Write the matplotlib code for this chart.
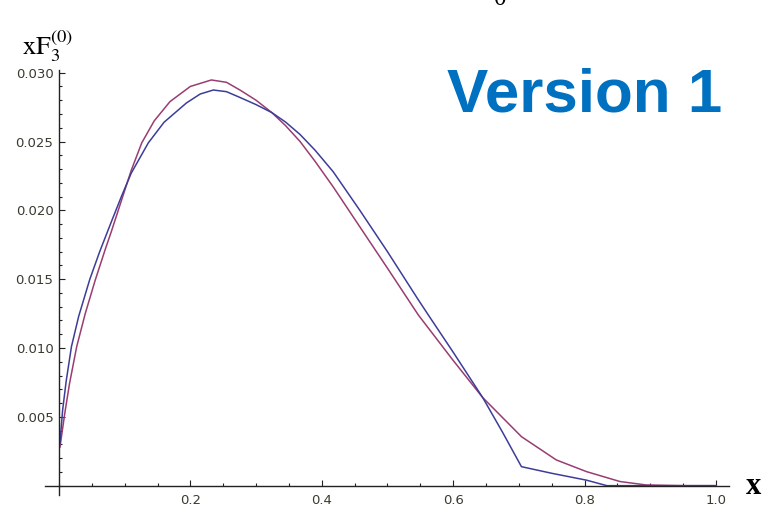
import numpy as np
import matplotlib
matplotlib.use("Agg")
import matplotlib.pyplot as plt
from matplotlib.ticker import MultipleLocator, FixedLocator

# blue curve (has a kink near x=0.7)
x_blue = [0.0015, 0.0056, 0.011, 0.019, 0.030, 0.047, 0.062, 0.08, 0.095, 0.11,
          0.136, 0.16, 0.194, 0.215, 0.235, 0.255, 0.2755, 0.30, 0.324, 0.345,
          0.367, 0.39, 0.4175, 0.458, 0.50, 0.547, 0.565, 0.60, 0.645, 0.675, 0.704,
          0.75, 0.803, 0.834, 0.9, 1.0]
y_blue = [0.0031, 0.0055, 0.0076, 0.0101, 0.0123, 0.0150, 0.0170, 0.0192, 0.0210, 0.0227,
          0.0249, 0.0264, 0.0278, 0.02845, 0.02874, 0.02862, 0.0282, 0.02768, 0.0271, 0.02641,
          0.02551, 0.02436, 0.0228, 0.0200, 0.0170, 0.0135, 0.0122, 0.0097, 0.0064, 0.0039, 0.00138,
          0.0009, 0.0004, 0.0, 0.0, 0.0]

# smooth red/purple curve
x_red = [0.0015, 0.009, 0.016, 0.027, 0.040, 0.055, 0.070, 0.08, 0.095, 0.11,
         0.126, 0.145, 0.169, 0.20, 0.232, 0.255, 0.2755, 0.30, 0.324, 0.345,
         0.367, 0.39, 0.4175, 0.458, 0.50, 0.547, 0.60, 0.645, 0.704, 0.757,
         0.803, 0.854, 0.894, 0.95, 1.0]
y_red = [0.0028, 0.0053, 0.0074, 0.0101, 0.0125, 0.0149, 0.0171, 0.0185, 0.0207, 0.0229,
         0.0249, 0.0265, 0.0279, 0.0290, 0.02947, 0.0293, 0.02874, 0.0280, 0.02710, 0.02615,
         0.0250, 0.02355, 0.0217, 0.0188, 0.0158, 0.0124, 0.0091, 0.0064, 0.00356, 0.00187,
         0.00102, 0.0003, 0.00005, 0.0, 0.0]

x_ticks = [0.2, 0.4, 0.6, 0.8, 1.0]
y_ticks = [0.005, 0.010, 0.015, 0.020, 0.025, 0.030]

fig = plt.figure(figsize=(7.63, 5.13), dpi=100)
ax = fig.add_axes([0.0592, 0.0345, 0.8963, 0.8292])

ax.plot(x_red, y_red, color="#993d71", lw=1.1)
ax.plot(x_blue, y_blue, color="#3d3d99", lw=1.1)

ax.set_xlim(-0.021, 1.02)
ax.set_ylim(-0.0007, 0.0302)

for s in ["top", "right"]:
    ax.spines[s].set_visible(False)
ax.spines["left"].set_position(("data", 0))
ax.spines["bottom"].set_position(("data", 0))
for s in ["left", "bottom"]:
    ax.spines[s].set_linewidth(1.0)
    ax.spines[s].set_color("#222222")

ax.xaxis.set_major_locator(FixedLocator(x_ticks))
ax.yaxis.set_major_locator(FixedLocator(y_ticks))
ax.xaxis.set_minor_locator(MultipleLocator(0.05))
ax.yaxis.set_minor_locator(MultipleLocator(0.001))
ax.set_xticklabels(["%.1f" % v for v in x_ticks])
ax.set_yticklabels(["%.3f" % v for v in y_ticks])

ax.tick_params(which="both", direction="in", color="#222222", width=0.8,
               labelsize=9.5, labelcolor="#3a3a30")
ax.tick_params(which="major", length=4.5)
ax.tick_params(which="minor", length=2.5)
ax.tick_params(axis="x", pad=6)
ax.tick_params(axis="y", pad=4)

# axis labels in serif like the original
fig.text(22 / 763, 1 - 55 / 513, r"$\mathrm{xF}_3^{(0)}$", fontsize=19,
         family="DejaVu Serif", math_fontfamily="stix", va="baseline", ha="left")
fig.text(754 / 763, 1 - 487 / 513, "x", fontsize=22, family="Liberation Serif",
         weight="bold", ha="center", va="center")
# glyph cut off at the very top, as in the original
fig.text(500 / 763, 1 - 10 / 513, "0", fontsize=18, family="Liberation Serif",
         ha="center", va="bottom")

fig.text(447 / 763, 1 - 112 / 513, "Version 1", fontsize=44.6, weight="bold",
         family="Liberation Sans", color="#0070c0", ha="left", va="baseline")

fig.savefig("out.png", dpi=100)
